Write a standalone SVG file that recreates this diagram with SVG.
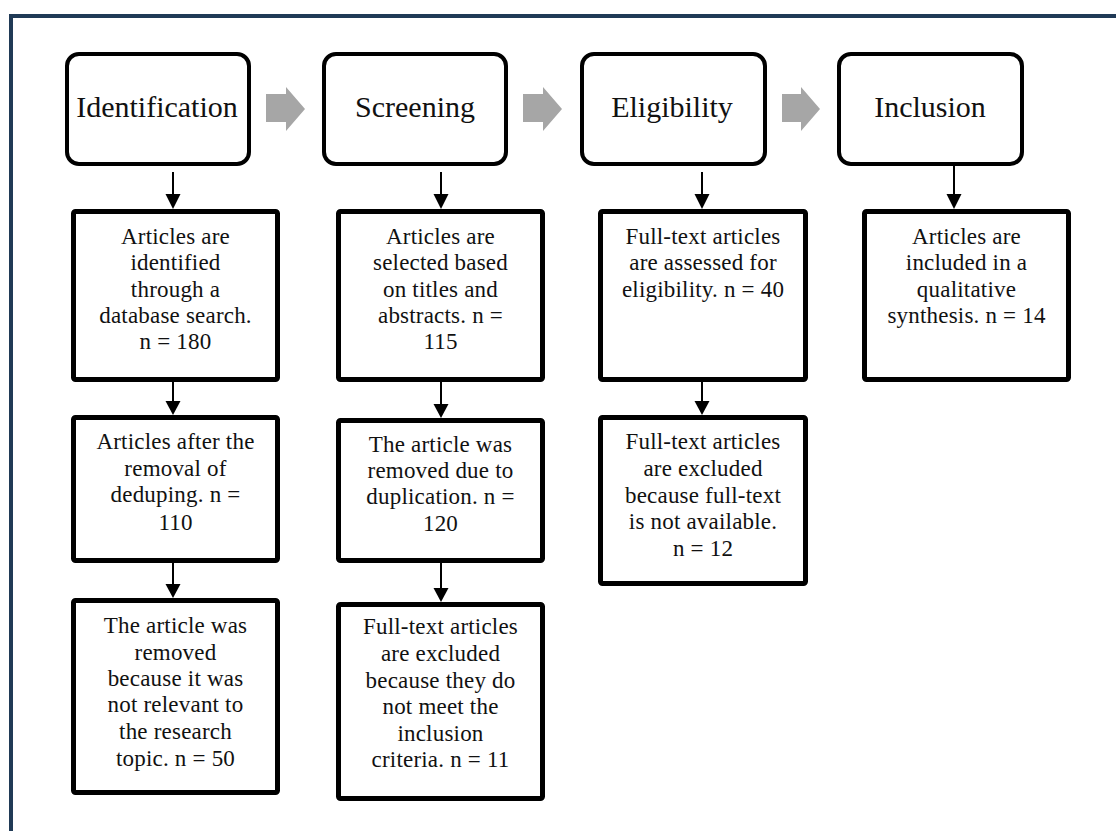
<svg xmlns="http://www.w3.org/2000/svg" width="1116" height="831" viewBox="0 0 1116 831">
<style>
.hdr{fill:#fff;stroke:#000;stroke-width:4}
.box{fill:#fff;stroke:#000;stroke-width:5}
.ht{font-family:"Liberation Serif","Times New Roman",serif;font-size:30px;fill:#111;text-anchor:middle}
.bt{font-family:"Liberation Serif","Times New Roman",serif;font-size:23px;letter-spacing:0.2px;fill:#111;text-anchor:middle}
.ln{stroke:#000;stroke-width:2;fill:none}
.hd{fill:#000}
.ga{fill:#a6a6a6}
</style>
<rect x="11" y="16" width="1200" height="900" fill="#fff" stroke="#203a56" stroke-width="4"/>

<g id="connectors">
  <polygon class="ga" points="266,94 286,94 286,87 305,109 286,131 286,122 266,122"/>
  <polygon class="ga" points="523,94 543,94 543,87 562,109 543,131 543,122 523,122"/>
  <polygon class="ga" points="782,94 801,94 801,87 820,109 801,131 801,122 782,122"/>

  <line class="ln" x1="173" y1="172" x2="173" y2="196"/><polygon class="hd" points="165.5,194 180.5,194 173,209"/>
  <line class="ln" x1="173" y1="382" x2="173" y2="403"/><polygon class="hd" points="165.5,401 180.5,401 173,415"/>
  <line class="ln" x1="173" y1="563" x2="173" y2="586"/><polygon class="hd" points="165.5,584 180.5,584 173,598"/>

  <line class="ln" x1="441" y1="172" x2="441" y2="196"/><polygon class="hd" points="433.5,194 448.5,194 441,209"/>
  <line class="ln" x1="441" y1="382" x2="441" y2="406"/><polygon class="hd" points="433.5,404 448.5,404 441,418"/>
  <line class="ln" x1="441" y1="563" x2="441" y2="590"/><polygon class="hd" points="433.5,588 448.5,588 441,602"/>

  <line class="ln" x1="702" y1="172" x2="702" y2="196"/><polygon class="hd" points="694.5,194 709.5,194 702,209"/>
  <line class="ln" x1="702" y1="382" x2="702" y2="403"/><polygon class="hd" points="694.5,401 709.5,401 702,415"/>

  <line class="ln" x1="954" y1="166" x2="954" y2="196"/><polygon class="hd" points="946.5,194 961.5,194 954,209"/>
</g>

<g id="identification">
  <rect class="hdr" x="67" y="54" width="182" height="110" rx="12"/>
  <text class="ht" x="157" y="117">Identification</text>
</g>
<g id="screening">
  <rect class="hdr" x="324" y="54" width="182" height="110" rx="12"/>
  <text class="ht" x="415" y="117">Screening</text>
</g>
<g id="eligibility">
  <rect class="hdr" x="582" y="54" width="183" height="110" rx="12"/>
  <text class="ht" x="672" y="117">Eligibility</text>
</g>
<g id="inclusion">
  <rect class="hdr" x="839" y="54" width="183" height="110" rx="12"/>
  <text class="ht" x="930" y="117">Inclusion</text>
</g>

<g id="id1">
  <rect class="box" x="73.5" y="211.5" width="204" height="168" rx="2"/>
  <text class="bt" x="175.5" y="244">Articles are</text>
  <text class="bt" x="175.5" y="270.3">identified</text>
  <text class="bt" x="175.5" y="296.6">through a</text>
  <text class="bt" x="175.5" y="322.9">database search.</text>
  <text class="bt" x="175.5" y="349.2">n = 180</text>
</g>
<g id="id2">
  <rect class="box" x="73.5" y="417.5" width="204" height="143" rx="2"/>
  <text class="bt" x="175.5" y="449.3">Articles after the</text>
  <text class="bt" x="175.5" y="476">removal of</text>
  <text class="bt" x="175.5" y="502">deduping. n =</text>
  <text class="bt" x="175.5" y="529.5">110</text>
</g>
<g id="id3">
  <rect class="box" x="73.5" y="600.5" width="204" height="192" rx="2"/>
  <text class="bt" x="175.5" y="633.3">The article was</text>
  <text class="bt" x="175.5" y="659.6">removed</text>
  <text class="bt" x="175.5" y="686">because it was</text>
  <text class="bt" x="175.5" y="712.3">not relevant to</text>
  <text class="bt" x="175.5" y="738.6">the research</text>
  <text class="bt" x="175.5" y="765.5">topic. n = 50</text>
</g>

<g id="sc1">
  <rect class="box" x="338.5" y="211.5" width="204" height="168" rx="2"/>
  <text class="bt" x="440.5" y="244">Articles are</text>
  <text class="bt" x="440.5" y="270.3">selected based</text>
  <text class="bt" x="440.5" y="296.6">on titles and</text>
  <text class="bt" x="440.5" y="322.9">abstracts. n =</text>
  <text class="bt" x="440.5" y="349.2">115</text>
</g>
<g id="sc2">
  <rect class="box" x="338.5" y="420.5" width="204" height="140" rx="2"/>
  <text class="bt" x="440.5" y="451.7">The article was</text>
  <text class="bt" x="440.5" y="477.5">removed due to</text>
  <text class="bt" x="440.5" y="503.5">duplication. n =</text>
  <text class="bt" x="440.5" y="530.5">120</text>
</g>
<g id="sc3">
  <rect class="box" x="338.5" y="604.5" width="204" height="194" rx="2"/>
  <text class="bt" x="440.5" y="634.3">Full-text articles</text>
  <text class="bt" x="440.5" y="661">are excluded</text>
  <text class="bt" x="440.5" y="687.7">because they do</text>
  <text class="bt" x="440.5" y="714.3">not meet the</text>
  <text class="bt" x="440.5" y="740.5">inclusion</text>
  <text class="bt" x="440.5" y="767.3">criteria. n = 11</text>
</g>

<g id="el1">
  <rect class="box" x="600.5" y="211.5" width="205" height="168" rx="2"/>
  <text class="bt" x="703" y="244">Full-text articles</text>
  <text class="bt" x="703" y="270.3">are assessed for</text>
  <text class="bt" x="703" y="296.6">eligibility. n = 40</text>
</g>
<g id="el2">
  <rect class="box" x="600.5" y="417.5" width="205" height="166" rx="2"/>
  <text class="bt" x="703" y="449.3">Full-text articles</text>
  <text class="bt" x="703" y="476">are excluded</text>
  <text class="bt" x="703" y="502.5">because full-text</text>
  <text class="bt" x="703" y="529">is not available.</text>
  <text class="bt" x="703" y="555.5">n = 12</text>
</g>

<g id="in1">
  <rect class="box" x="864.5" y="211.5" width="204" height="168" rx="2"/>
  <text class="bt" x="966.5" y="244">Articles are</text>
  <text class="bt" x="966.5" y="270.3">included in a</text>
  <text class="bt" x="966.5" y="296.6">qualitative</text>
  <text class="bt" x="966.5" y="322.9">synthesis. n = 14</text>
</g>
</svg>
